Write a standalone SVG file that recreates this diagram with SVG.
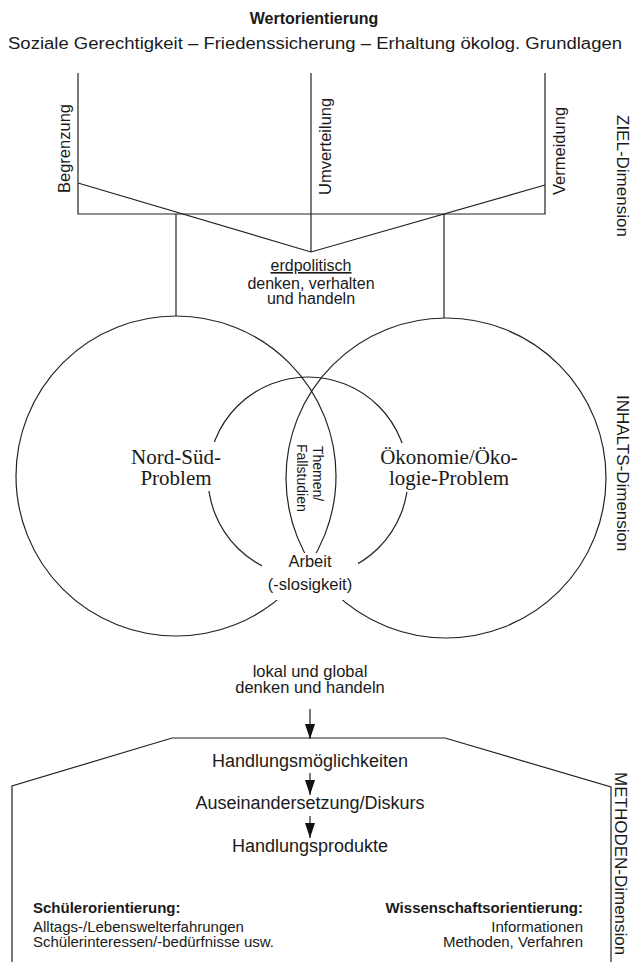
<svg xmlns="http://www.w3.org/2000/svg" width="639" height="962" viewBox="0 0 639 962">
  <style>
    .sans { font-family: "Liberation Sans", Arial, sans-serif; fill: #1a1a1a; }
    .serif { font-family: "Liberation Serif", "Times New Roman", serif; fill: #1a1a1a; }
    .bold { font-weight: bold; }
    .ln { fill: none; stroke: #222; stroke-width: 1.2; }
    .knock { fill: #fff; stroke: none; }
    .dim { font-size: 17px; }
    .axis { font-size: 16.5px; }
    .mid { text-anchor: middle; }
    .end { text-anchor: end; }
  </style>
  <defs>
    <marker id="head" markerUnits="userSpaceOnUse" markerWidth="15" markerHeight="10" refX="15" refY="5" orient="auto">
      <path d="M0,0 L15,5 L0,10 Z" fill="#111"/>
    </marker>
  </defs>

  <rect width="639" height="962" fill="#fff"/>

  <!-- value orientation heading -->
  <g id="werte">
    <text class="sans bold mid" x="314" y="24" font-size="16">Wertorientierung</text>
    <text class="sans" x="8" y="49" font-size="16" textLength="614" lengthAdjust="spacingAndGlyphs">Soziale Gerechtigkeit – Friedenssicherung – Erhaltung ökolog. Grundlagen</text>
  </g>

  <!-- goal frame: three goal axes, base line and the V -->
  <g id="ziel">
    <path class="ln" d="M78,73 V214 H545 V73"/>
    <path class="ln" d="M311,73 V252"/>
    <path class="ln" d="M78,183 L311,252 L545,185"/>
    <text class="sans axis" transform="translate(70,193) rotate(-90)">Begrenzung</text>
    <text class="sans axis" transform="translate(331,195) rotate(-90)">Umverteilung</text>
    <text class="sans axis" transform="translate(565,195) rotate(-90)">Vermeidung</text>
    <text class="sans dim" transform="translate(617,115) rotate(90)">ZIEL-Dimension</text>
  </g>

  <g id="erdpolitisch">
    <text class="sans mid" x="311" y="271" font-size="16" text-decoration="underline">erdpolitisch</text>
    <text class="sans mid" x="311" y="289" font-size="16">denken, verhalten</text>
    <text class="sans mid" x="311" y="304" font-size="16">und handeln</text>
  </g>

  <!-- connectors -->
  <g id="connectors">
    <path class="ln" d="M176,214 V316"/>
    <path class="ln" d="M444,214 V318"/>
    <path class="ln" d="M310,709 V739" marker-end="url(#head)"/>
    <path class="ln" d="M310,773 V795" marker-end="url(#head)"/>
    <path class="ln" d="M310,816 V838" marker-end="url(#head)"/>
  </g>

  <!-- content circles, with the text areas kept clear -->
  <g id="inhalt">
    <circle class="ln" cx="176" cy="476" r="160"/>
    <circle class="ln" cx="446" cy="478" r="160"/>
    <circle class="ln" cx="308" cy="477" r="100"/>
    <rect class="knock" x="125" y="442" width="104" height="49"/>
    <rect class="knock" x="376" y="443" width="146" height="49"/>
    <rect class="knock" x="262" y="553" width="96" height="47"/>
  </g>

  <g id="nord-sued">
    <text class="serif mid" x="176" y="464" font-size="21">Nord-Süd-</text>
    <text class="serif mid" x="176" y="485" font-size="21">Problem</text>
  </g>

  <g id="oekonomie">
    <text class="serif mid" x="449" y="464" font-size="21">Ökonomie/Öko-</text>
    <text class="serif mid" x="449" y="485" font-size="21">logie-Problem</text>
  </g>

  <g id="themen">
    <text class="sans" transform="translate(313,446) rotate(90)" font-size="14">Themen/</text>
    <text class="sans" transform="translate(297,444) rotate(90)" font-size="14">Fallstudien</text>
  </g>

  <g id="arbeit">
    <text class="sans mid" x="310" y="567" font-size="16.5">Arbeit</text>
    <text class="sans mid" x="310" y="590" font-size="16.5">(-slosigkeit)</text>
  </g>

  <text class="sans dim" transform="translate(617,395) rotate(90)">INHALTS-Dimension</text>

  <g id="lokal-global">
    <text class="sans mid" x="310" y="677" font-size="16.5">lokal und global</text>
    <text class="sans mid" x="310" y="693" font-size="16.5">denken und handeln</text>
  </g>

  <!-- method frame -->
  <g id="methoden">
    <path class="ln" d="M12,962 V786 L172,738 H445 L611,787 V962"/>
    <text class="sans dim" transform="translate(615,772) rotate(90)">METHODEN-Dimension</text>
  </g>

  <g id="handlung">
    <text class="sans mid" x="310" y="767" font-size="18">Handlungsmöglichkeiten</text>
    <text class="sans mid" x="310" y="809" font-size="18">Auseinandersetzung/Diskurs</text>
    <text class="sans mid" x="310" y="852" font-size="18">Handlungsprodukte</text>
  </g>

  <g id="schueler">
    <text class="sans bold" x="33" y="913" font-size="15">Schülerorientierung:</text>
    <text class="sans" x="33" y="932" font-size="15">Alltags-/Lebenswelterfahrungen</text>
    <text class="sans" x="33" y="947" font-size="15">Schülerinteressen/-bedürfnisse usw.</text>
  </g>

  <g id="wissenschaft">
    <text class="sans bold end" x="583" y="913" font-size="15">Wissenschaftsorientierung:</text>
    <text class="sans end" x="583" y="932" font-size="15">Informationen</text>
    <text class="sans end" x="583" y="947" font-size="15">Methoden, Verfahren</text>
  </g>
</svg>
